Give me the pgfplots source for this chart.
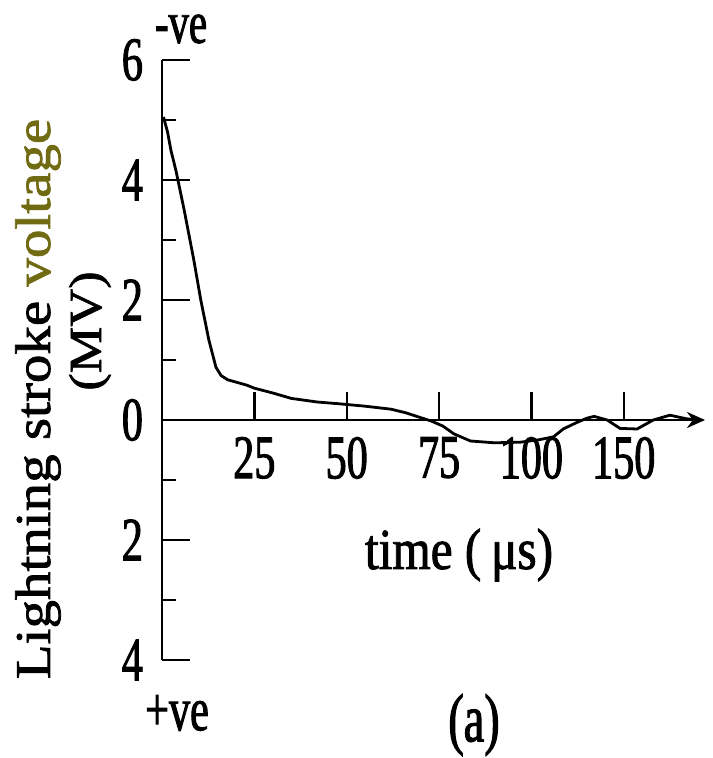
\documentclass[border=0pt]{standalone}
\usepackage{fontspec}
\setmainfont{Liberation Serif}
\newfontfamily\hfont[FakeStretch=0.85,FakeBold=1.5]{Liberation Serif}
\newfontfamily\dfont[FakeStretch=0.68,FakeBold=1.5]{Liberation Serif}
\newfontfamily\vfont[FakeStretch=1.14,FakeBold=1.5]{Liberation Serif}
\usepackage{xcolor}
\usepackage{pgfplots}
\pgfplotsset{compat=1.18}
\usetikzlibrary{arrows.meta}
\definecolor{olivec}{RGB}{112,106,18}

\begin{document}
\begin{tikzpicture}[x=0.5pt,y=-0.5pt]
\path[use as bounding box] (0,0) rectangle (712,758);
\begin{axis}[
    at={(81pt,-330pt)}, anchor=south west,
    scale only axis, width=271.5pt, height=300pt,
    xmin=0, xmax=147, ymin=-4, ymax=6,
    axis lines=middle,
    axis line style={line width=1.4pt},
    x axis line style={-{Stealth[length=9pt,width=8pt]}},
    y axis line style={-},
    tick align=inside,
    xtick={25,50,75,100,125}, xticklabels={25,50,75,100,150},
    ytick={-4,-2,0,2,4,6}, yticklabels={4,2,0,2,4,6},
    minor ytick={-3,-1,1,3,5},
    major tick length=14pt, minor tick length=7pt,
    tick style={line width=1.2pt, black},
    hide obscured x ticks=false, hide obscured y ticks=false,
    ticklabel style={font=\dfont\fontsize{31}{31}\selectfont},
    xticklabel style={yshift=-5pt},
    yticklabel style={xshift=-6pt},
    /pgf/number format/assume math mode=true,
    clip=false,
]
\addplot[black, line width=1.4pt] coordinates {
(0.4,5.05) (1.5,4.8) (2.4,4.5) (3.8,4.15) (6,3.5) (8.6,2.67) (10.5,2.0)
(12.7,1.33) (14.6,0.88) (16,0.74) (17.8,0.67) (23,0.58) (25,0.53) (30,0.45)
(35,0.36) (42,0.3) (48,0.27) (55,0.23) (62,0.18) (66,0.12) (70,0.04)
(73,-0.02) (76,-0.1) (79,-0.23) (83.5,-0.35) (90,-0.38) (97,-0.37)
(102,-0.33) (106,-0.28) (108.6,-0.15) (112,-0.05) (115,0.03) (117,0.06)
(120.5,0) (124,-0.14) (128.6,-0.15) (133,0) (137.5,0.08) (142,0.02) (145,0)
};
\end{axis}
\node[rotate=90, font=\vfont\fontsize{25}{25}\selectfont] at (38,399)
    {Lightning stroke {\color{olivec}voltage}};
\node[rotate=90, font=\vfont\fontsize{23}{23}\selectfont] at (90,331) {(MV)};
\node[font=\dfont\fontsize{30}{30}\selectfont, inner sep=0pt] at (181,29) {-ve};
\node[font=\dfont\fontsize{31}{31}\selectfont] at (177,713) {+ve};
\node[font=\hfont\fontsize{29}{29}\selectfont] at (459,555) {time (\,μs)};
\node[font=\dfont\fontsize{34}{34}\selectfont] at (474,725) {(a)};
\end{tikzpicture}
\end{document}
